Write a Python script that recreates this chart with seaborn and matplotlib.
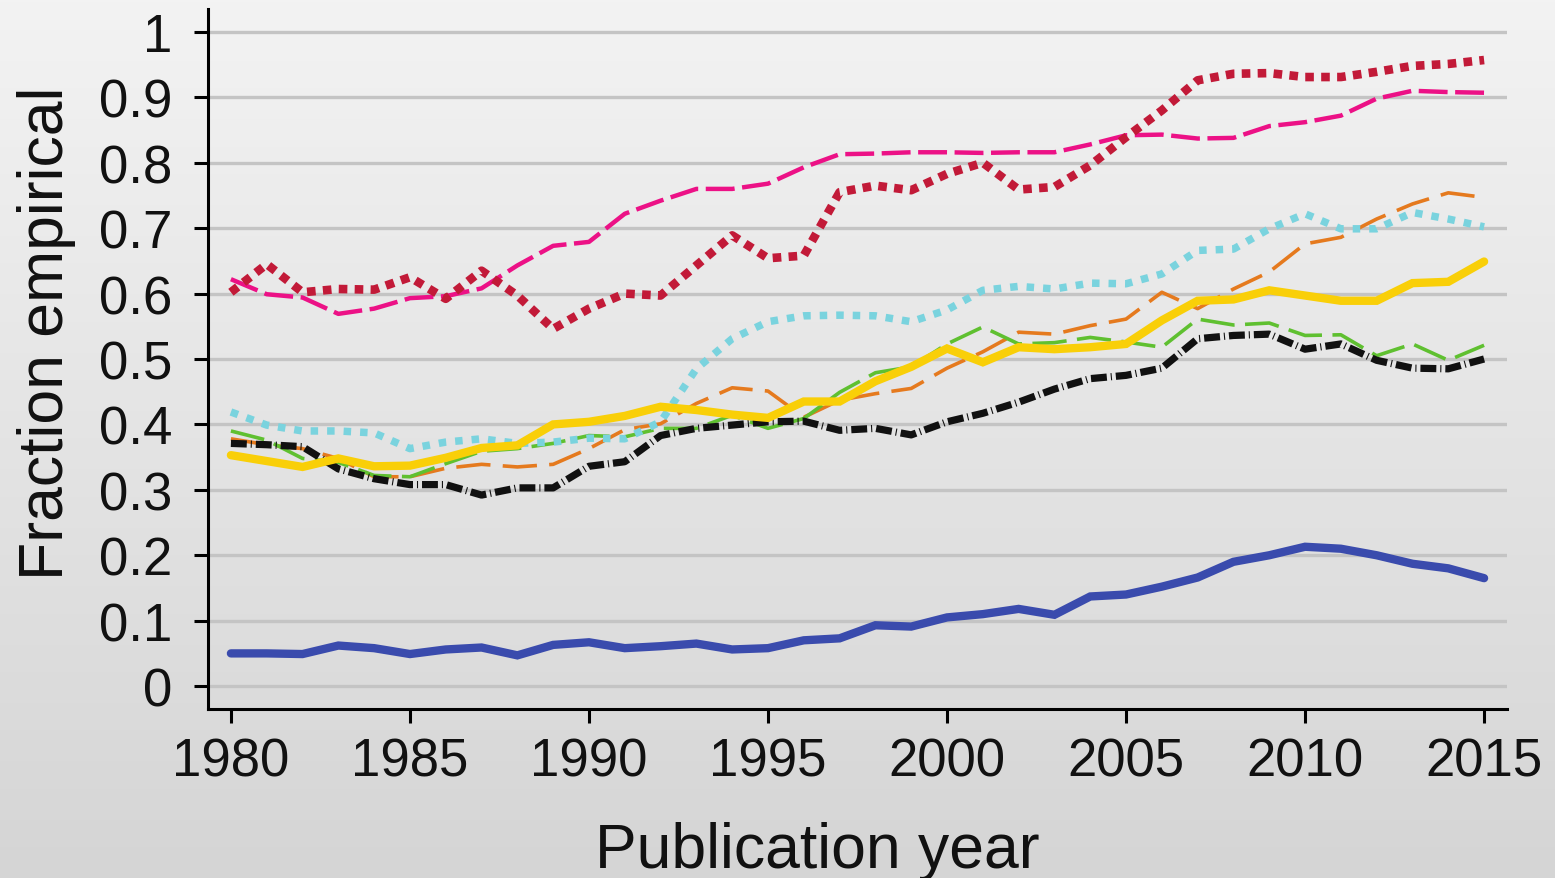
import numpy as np
import pandas as pd
import matplotlib
matplotlib.use("Agg")
import matplotlib.pyplot as plt
import seaborn as sns
from matplotlib.colors import LinearSegmentedColormap

years = list(range(1980, 2016))

blue_solid = [0.050, 0.050, 0.049, 0.062, 0.058, 0.049, 0.056, 0.059, 0.047, 0.063,
              0.067, 0.058, 0.061, 0.065, 0.056, 0.058, 0.070, 0.073, 0.093, 0.091,
              0.105, 0.110, 0.118, 0.109, 0.137, 0.140, 0.152, 0.166, 0.190, 0.200,
              0.213, 0.210, 0.200, 0.187, 0.180, 0.165]
pink_dashed = [0.622, 0.599, 0.594, 0.569, 0.577, 0.593, 0.596, 0.608, 0.643, 0.673,
               0.679, 0.722, 0.742, 0.760, 0.760, 0.768, 0.793, 0.813, 0.814, 0.816,
               0.816, 0.815, 0.816, 0.816, 0.828, 0.842, 0.843, 0.837, 0.838, 0.856,
               0.862, 0.872, 0.898, 0.910, 0.908, 0.907]
red_dotted = [0.602, 0.645, 0.602, 0.607, 0.606, 0.625, 0.592, 0.635, 0.597, 0.546,
              0.577, 0.600, 0.597, 0.643, 0.689, 0.654, 0.658, 0.755, 0.765, 0.758,
              0.783, 0.800, 0.759, 0.763, 0.796, 0.839, 0.880, 0.926, 0.936, 0.937,
              0.931, 0.931, 0.939, 0.948, 0.951, 0.957]
orange_dashed = [0.378, 0.369, 0.363, 0.348, 0.320, 0.320, 0.333, 0.339, 0.335, 0.339,
                 0.363, 0.392, 0.401, 0.432, 0.456, 0.451, 0.411, 0.437, 0.447, 0.455,
                 0.486, 0.511, 0.541, 0.538, 0.551, 0.561, 0.602, 0.577, 0.607, 0.633,
                 0.676, 0.686, 0.714, 0.737, 0.754, 0.747]
green_dashed = [0.390, 0.376, 0.348, 0.342, 0.322, 0.320, 0.340, 0.359, 0.363, 0.371,
                0.383, 0.381, 0.394, 0.394, 0.414, 0.394, 0.409, 0.449, 0.479, 0.488,
                0.523, 0.549, 0.523, 0.525, 0.533, 0.526, 0.518, 0.561, 0.552, 0.555,
                0.536, 0.537, 0.505, 0.523, 0.498, 0.521]
cyan_dotted = [0.419, 0.399, 0.390, 0.390, 0.387, 0.363, 0.373, 0.378, 0.371, 0.373,
               0.379, 0.378, 0.404, 0.485, 0.531, 0.557, 0.566, 0.567, 0.566, 0.557,
               0.575, 0.605, 0.611, 0.607, 0.616, 0.615, 0.630, 0.666, 0.668, 0.699,
               0.722, 0.699, 0.699, 0.724, 0.714, 0.702]
black_dashdot = [0.371, 0.369, 0.366, 0.332, 0.317, 0.308, 0.308, 0.292, 0.303, 0.303,
                 0.336, 0.343, 0.383, 0.394, 0.399, 0.404, 0.405, 0.391, 0.394, 0.384,
                 0.404, 0.417, 0.434, 0.454, 0.470, 0.475, 0.486, 0.531, 0.536, 0.538,
                 0.515, 0.523, 0.498, 0.486, 0.485, 0.500]
yellow_solid = [0.353, 0.344, 0.335, 0.348, 0.336, 0.337, 0.349, 0.364, 0.368, 0.400,
                0.404, 0.413, 0.427, 0.422, 0.415, 0.410, 0.435, 0.435, 0.466, 0.488,
                0.516, 0.495, 0.518, 0.515, 0.518, 0.523, 0.559, 0.589, 0.591, 0.605,
                0.597, 0.589, 0.589, 0.616, 0.618, 0.649]

x_ticks = [1980, 1985, 1990, 1995, 2000, 2005, 2010, 2015]
y_ticks = [0, 0.1, 0.2, 0.3, 0.4, 0.5, 0.6, 0.7, 0.8, 0.9, 1.0]
y_tick_labels = ["0", "0.1", "0.2", "0.3", "0.4", "0.5", "0.6", "0.7", "0.8", "0.9", "1"]

sns.set_style("white")
plt.rcParams["font.family"] = ["Liberation Sans", "DejaVu Sans"]

fig = plt.figure(figsize=(15.55, 8.79), dpi=100)

# background gradient
bg = fig.add_axes([0, 0, 1, 1], zorder=-10)
grad = np.linspace(0, 1, 256).reshape(-1, 1)
cmap = LinearSegmentedColormap.from_list("bg", ["#f3f3f3", "#d5d5d5"])
bg.imshow(grad, aspect="auto", cmap=cmap, extent=[0, 1, 0, 1], origin="upper")
bg.set_axis_off()

ax = fig.add_axes([208 / 1555, 1 - 710 / 879, (1507 - 208) / 1555, 700 / 879])
ax.set_facecolor("none")

series = [
    (blue_solid, "#3a4bad", 6.0, "-", 2),
    (pink_dashed, "#ec1186", 3.2, (0, (6.5, 1.7)), 3),
    (red_dotted, "#c21a38", 6.2, (0, (1.0, 0.85)), 4),
    (orange_dashed, "#e57a1e", 2.6, (0, (9.5, 3.4)), 5),
    (green_dashed, "#5fc030", 2.6, (0, (9.5, 2.9)), 6),
    (cyan_dotted, "#7ad3de", 5.4, (0, (1.0, 1.2)), 7),
    (black_dashdot, "#111111", 5.2, (0, (2.2, 0.55, 0.15, 0.55)), 8),
    (yellow_solid, "#f9cf08", 6.0, "-", 9),
]

for vals, color, lw, ls, z in series:
    df = pd.DataFrame({"year": years, "value": vals})
    sns.lineplot(data=df, x="year", y="value", ax=ax, color=color, linewidth=lw, zorder=z)
    line = ax.lines[-1]
    line.set_linestyle(ls)
    line.set_solid_capstyle("round" if ls == "-" else "butt")
    line.set_solid_joinstyle("miter")

ax.set_xlim(1979.36, 2015.64)
ax.set_ylim(-0.035, 1.035)
ax.set_xticks(x_ticks)
ax.set_xticklabels([str(t) for t in x_ticks])
ax.set_yticks(y_ticks)
ax.set_yticklabels(y_tick_labels)

for y in y_ticks:
    ax.axhline(y, color="#c4c4c4", lw=2.4, zorder=1)

for s in ["top", "right"]:
    ax.spines[s].set_visible(False)
for s in ["left", "bottom"]:
    ax.spines[s].set_color("black")
    ax.spines[s].set_linewidth(2.2)

ax.tick_params(axis="both", direction="out", length=10, width=2.2, color="black",
               labelsize=38, labelcolor="#111111", left=True, bottom=True)
ax.tick_params(axis="y", pad=16)
ax.tick_params(axis="x", pad=10)

ax.set_xlabel("Publication year", fontsize=45, color="#111111")
ax.set_ylabel("Fraction empirical", fontsize=45, color="#111111")
ax.xaxis.label.set_va("baseline")
ax.xaxis.set_label_coords((817 - 208) / 1299, (710 - 868) / 700)
ax.yaxis.set_label_coords((76 - 208) / 1299, (710 - 333) / 700)

fig.savefig("out.png", dpi=100)
